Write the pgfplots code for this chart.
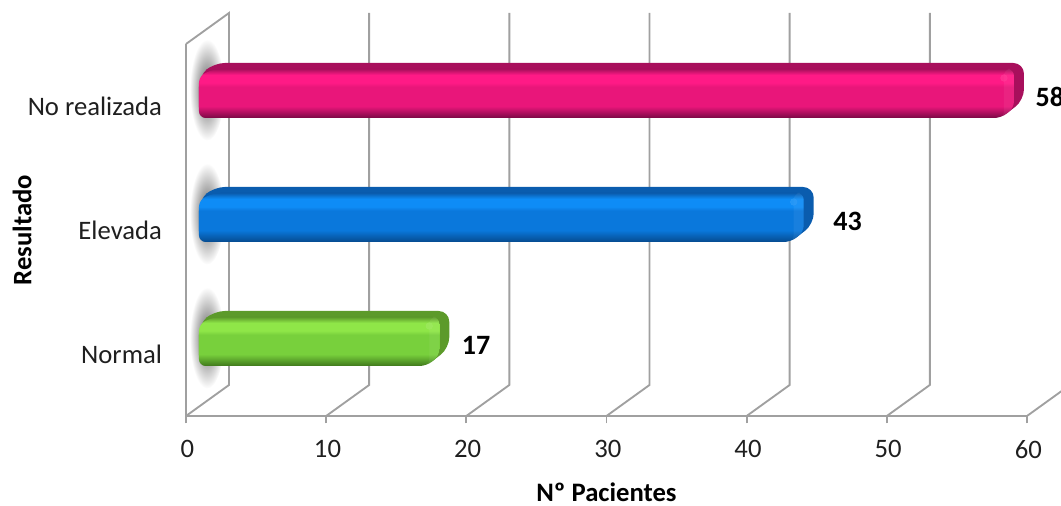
\documentclass[border=0pt]{standalone}
\usepackage{fontspec}
\setmainfont{Carlito}
\usepackage{pgfplots}
\pgfplotsset{compat=1.18}

\definecolor{gridc}{HTML}{A0A0A0}
\definecolor{txt}{HTML}{1F1F1F}

% vertical profile of a bar face, bottom to top (25bp..75bp is the path box)
\newcommand{\faceshade}[5]{%
  \pgfdeclareverticalshading{#1}{100bp}{%
    color(0bp)=(#2); color(25bp)=(#2); color(37bp)=(#4); color(57bp)=(#4);
    color(61bp)=(#5); color(69bp)=(#5); color(75bp)=(#3); color(100bp)=(#3)}}
\definecolor{pinkdk}{HTML}{A80F5C}\definecolor{pinklo}{HTML}{7A0845}
\definecolor{pinkmd}{HTML}{E9167A}\definecolor{pinkhi}{HTML}{FF1A86}
\definecolor{bluedk}{HTML}{0A5CAE}\definecolor{bluelo}{HTML}{064A8E}
\definecolor{bluemd}{HTML}{0A78DC}\definecolor{bluehi}{HTML}{0E8CF6}
\definecolor{greendk}{HTML}{5C9A2A}\definecolor{greenlo}{HTML}{3F781C}
\definecolor{greenmd}{HTML}{78D03C}\definecolor{greenhi}{HTML}{8FE648}
\faceshade{pinkface}{pinklo}{pinkdk}{pinkmd}{pinkhi}
\faceshade{blueface}{bluelo}{bluedk}{bluemd}{bluehi}
\faceshade{greenface}{greenlo}{greendk}{greenmd}{greenhi}

% #1 category, #2 value, #3 dark colour, #4 face shading, #5 highlight colour
% 14.017 px per x unit, 124 px per category
\newcommand{\bevelbar}[5]{%
  \pgfmathsetmacro\xl{13/14.017}
  \pgfmathsetmacro\xc{#2+2/14.017}
  \pgfmathsetmacro\xb{#2+5/14.017}
  \pgfmathsetmacro\xf{#2+15/14.017}
  \pgfmathsetmacro\xe{#2+25/14.017}
  \pgfmathsetmacro\xld{28/14.017}
  \pgfmathsetmacro\yt{#1+43/124}
  \pgfmathsetmacro\yi{#1+37/124}
  \pgfmathsetmacro\yc{#1+30/124}
  \pgfmathsetmacro\ym{#1+6/124}
  \pgfmathsetmacro\yn{#1-2/124}
  \pgfmathsetmacro\yb{#1-12/124}
  \pgfmathsetmacro\yh{#1+28/124}
  % silhouette
  \addplot[draw=none, fill=#3, rounded corners=8pt] coordinates
    {(\xl,\yb) (\xl,\yc) (\xld,\yt) (\xe,\yt) (\xe,\ym) (\xc,\yb)} --cycle;
  % front face
  \addplot[draw=none, shade, shading=#4, rounded corners=5pt] coordinates
    {(\xl,\yb) (\xl,\yc) (\xld,\yi) (\xf,\yi) (\xf,\yn) (\xc,\yb)} --cycle;
  % lighter strip before the rounded end
  \addplot[draw=none, fill=white, fill opacity=0.06, rounded corners=5pt] coordinates
    {(\xb,\yb) (\xb,\yi) (\xf,\yi) (\xf,\yn) (\xc,\yb)} --cycle;
  \addplot[only marks, mark=*, mark size=2.5pt, color=#5, opacity=0.6] coordinates {(\xb,\yh)};
}

\begin{document}
\begin{tikzpicture}
\clip (0,0) rectangle (795.75pt,379.5pt);
\begin{axis}[
  at={(139.5pt,67.5pt)}, anchor=south west,
  scale only axis, width=630.75pt, height=279pt,
  xmin=0, xmax=60, ymin=-0.5, ymax=2.5,
  clip=false,
  axis x line=bottom, axis y line=left,
  axis line style={-, gridc, line width=1.8pt},
  xtick={0,10,...,60}, ytick={0,1,2},
  yticklabels={Normal,Elevada,No realizada},
  x tick style={gridc, line width=1.4pt},
  y tick style={draw=none},
  tick align=outside,
  major tick length=5.5pt,
  tick label style={font=\fontsize{20}{22}\selectfont, text=txt},
  /pgf/number format/assume math mode=true,
  xticklabel style={yshift=-9pt, xshift=1pt},
  yticklabel style={xshift=-9pt},
  every axis x label/.style={at={(axis description cs:0.5,-0.204)}, anchor=center},
  every axis y label/.style={at={(axis description cs:-0.195,0.5)}, anchor=center, rotate=90},
  xlabel={\textbf{Nº Pacientes}},
  ylabel={\textbf{Resultado}},
  label style={font=\fontsize{20}{22}\selectfont, text=black},
]
  % walls: left panel and floor/back lines
  \addplot[gridc, line width=1.4pt] coordinates {(0,2.5) (3.068,2.75) (3.068,-0.25) (0,-0.5)};
  \addplot[gridc, line width=1.4pt] coordinates {(10,-0.5) (13.068,-0.25) (13.068,2.75)};
  \addplot[gridc, line width=1.4pt] coordinates {(20,-0.5) (23.068,-0.25) (23.068,2.75)};
  \addplot[gridc, line width=1.4pt] coordinates {(30,-0.5) (33.068,-0.25) (33.068,2.75)};
  \addplot[gridc, line width=1.4pt] coordinates {(40,-0.5) (43.068,-0.25) (43.068,2.75)};
  \addplot[gridc, line width=1.4pt] coordinates {(50,-0.5) (53.068,-0.25) (53.068,2.75)};
  \addplot[gridc, line width=1.4pt] coordinates {(60,-0.5) (63.068,-0.25)};

  % soft shadows on the left panel
  \shade[inner color=black!65, outer color=white] (axis cs:1.5,2.13) ellipse [x radius=13pt, y radius=38pt];
  \shade[inner color=black!65, outer color=white] (axis cs:1.5,1.13) ellipse [x radius=13pt, y radius=38pt];
  \shade[inner color=black!65, outer color=white] (axis cs:1.5,0.13) ellipse [x radius=13pt, y radius=38pt];

  \bevelbar{0}{17}{greendk}{greenface}{greenhi!85!white}
  \bevelbar{1}{43}{bluedk}{blueface}{bluehi!85!white}
  \bevelbar{2}{58}{pinkdk}{pinkface}{pinkhi!85!white}

  % value labels
  \addplot[only marks, mark=none, point meta=explicit symbolic, nodes near coords,
    nodes near coords style={anchor=west, inner sep=0pt, font=\fontsize{21}{24}\selectfont\bfseries, text=black}]
    coordinates {(19.67,0.07) [17] (46.17,1.07) [43] (60.6,2.07) [58]};
\end{axis}
\end{tikzpicture}
\end{document}
